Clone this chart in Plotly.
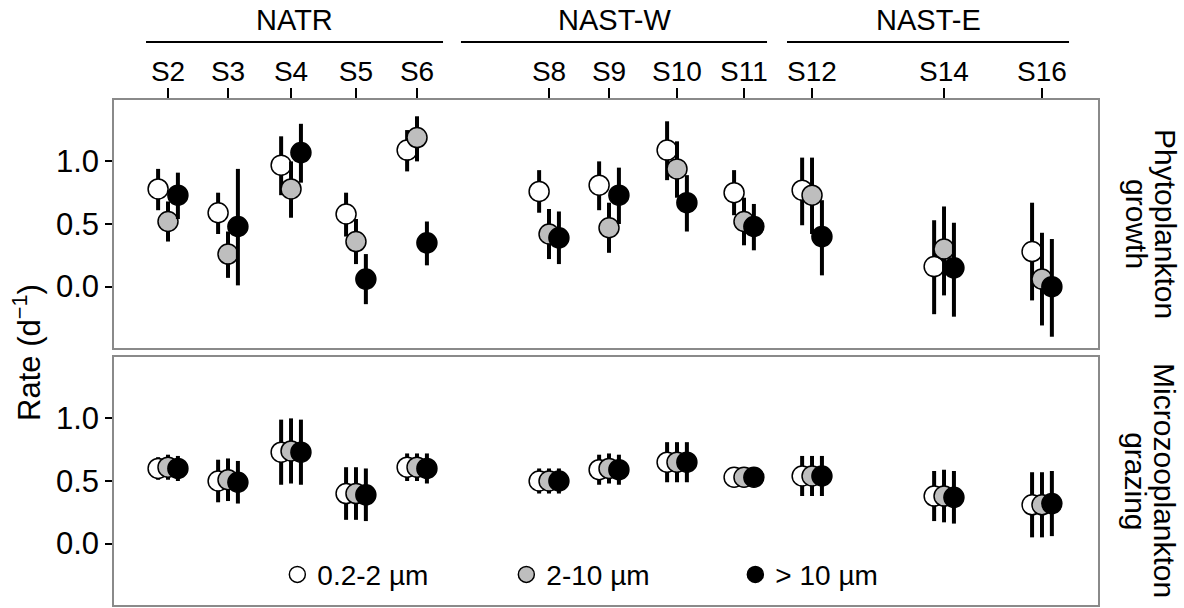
import plotly.graph_objects as go

# ---------------- data ----------------
stations = ["S2", "S3", "S4", "S5", "S6", "S8", "S9", "S10", "S11", "S12", "S14", "S16"]
station_pos = [2.0, 2.909, 3.864, 4.848, 5.773, 7.773, 8.682, 9.712, 10.727, 11.758, 13.758, 15.242]

size_classes = ["0.2-2 µm", "2-10 µm", "> 10 µm"]

# Phytoplankton growth (d-1): mean, lower, upper
growth_small = [0.78, 0.59, 0.97, 0.58, 1.09, 0.76, 0.81, 1.09, 0.75, 0.77, 0.16, 0.28]
growth_small_lo = [0.61, 0.42, 0.73, 0.40, 0.92, 0.59, 0.61, 0.85, 0.57, 0.49, -0.22, -0.11]
growth_small_hi = [0.94, 0.75, 1.20, 0.75, 1.25, 0.93, 1.00, 1.32, 0.93, 1.03, 0.53, 0.67]

growth_mid = [0.52, 0.26, 0.78, 0.36, 1.19, 0.42, 0.47, 0.94, 0.52, 0.73, 0.30, 0.06]
growth_mid_lo = [0.36, 0.07, 0.55, 0.18, 1.00, 0.22, 0.27, 0.71, 0.33, 0.42, -0.07, -0.31]
growth_mid_hi = [0.68, 0.44, 1.00, 0.54, 1.36, 0.62, 0.67, 1.16, 0.71, 1.03, 0.64, 0.43]

growth_large = [0.73, 0.48, 1.07, 0.06, 0.35, 0.39, 0.73, 0.67, 0.48, 0.40, 0.15, 0.00]
growth_large_lo = [0.54, 0.01, 0.83, -0.14, 0.17, 0.18, 0.50, 0.44, 0.29, 0.09, -0.24, -0.40]
growth_large_hi = [0.91, 0.94, 1.30, 0.26, 0.52, 0.60, 0.95, 0.89, 0.66, 0.69, 0.51, 0.38]

# Microzooplankton grazing (d-1): mean and symmetric error
grazing_small = [0.60, 0.50, 0.73, 0.40, 0.61, 0.50, 0.59, 0.65, 0.53, 0.54, 0.38, 0.31]
grazing_mid = [0.61, 0.51, 0.74, 0.40, 0.61, 0.50, 0.60, 0.65, 0.53, 0.54, 0.38, 0.31]
grazing_large = [0.60, 0.49, 0.73, 0.39, 0.60, 0.50, 0.59, 0.65, 0.53, 0.54, 0.37, 0.32]
grazing_err_small = [0.09, 0.17, 0.26, 0.21, 0.11, 0.10, 0.12, 0.16, 0.05, 0.16, 0.20, 0.26]
grazing_err_mid = [0.10, 0.17, 0.26, 0.21, 0.11, 0.10, 0.12, 0.16, 0.05, 0.16, 0.21, 0.26]
grazing_err_large = [0.10, 0.17, 0.26, 0.21, 0.12, 0.10, 0.12, 0.16, 0.05, 0.16, 0.21, 0.26]

regions = ["NATR", "NAST-W", "NAST-E"]
region_span = [(1.667, 6.167), (6.439, 11.076), (11.379, 15.652)]

# ---------------- style ----------------
FONT = "Liberation Sans, Arial, sans-serif"
fills = ["#ffffff", "#bebebe", "#000000"]
dodge = [-0.15, 0.0, 0.15]
FRAME = "#8a8a8a"
FS = 28

fig = go.Figure()

growth = [
    (growth_small, growth_small_lo, growth_small_hi),
    (growth_mid, growth_mid_lo, growth_mid_hi),
    (growth_large, growth_large_lo, growth_large_hi),
]
grazing = [
    (grazing_small, grazing_err_small),
    (grazing_mid, grazing_err_mid),
    (grazing_large, grazing_err_large),
]

for i, (m, lo, hi) in enumerate(growth):
    xs = [p + dodge[i] for p in station_pos]
    fig.add_trace(go.Scatter(
        x=xs, y=m, mode="markers", name=size_classes[i],
        xaxis="x", yaxis="y",
        marker=dict(size=20, color=fills[i], line=dict(color="black", width=1.5)),
        error_y=dict(type="data", symmetric=False,
                     array=[h - v for h, v in zip(hi, m)],
                     arrayminus=[v - l for v, l in zip(m, lo)],
                     thickness=4, width=0, color="black"),
        showlegend=True,
    ))

for i, (m, e) in enumerate(grazing):
    xs = [p + dodge[i] for p in station_pos]
    fig.add_trace(go.Scatter(
        x=xs, y=m, mode="markers", name=size_classes[i],
        xaxis="x2", yaxis="y2",
        marker=dict(size=20, color=fills[i], line=dict(color="black", width=1.5)),
        error_y=dict(type="data", array=e, thickness=4, width=0, color="black"),
        showlegend=False,
    ))

xr = [1.1818, 16.0909]
yr = [-0.49, 1.49]

common_y = dict(
    range=yr, tickvals=[0, 0.5, 1.0], tickformat=".1f",
    ticks="outside", ticklen=7, tickwidth=2, tickcolor="black",
    showline=True, mirror=True, linecolor=FRAME, linewidth=1.5,
    showgrid=False, zeroline=False,
    tickfont=dict(family=FONT, size=31, color="black"),
)

fig.update_layout(
    width=1184, height=608,
    margin=dict(l=114, r=86, t=100, b=3),
    paper_bgcolor="white", plot_bgcolor="white",
    font=dict(family=FONT, size=FS, color="black"),
    xaxis=dict(
        domain=[0, 1], anchor="y", side="top", range=xr,
        tickvals=station_pos, ticktext=stations,
        ticks="outside", ticklen=10, tickwidth=2, tickcolor="black",
        ticklabelstandoff=-4,
        showline=True, mirror=True, linecolor=FRAME, linewidth=1.5,
        showgrid=False, zeroline=False,
        tickfont=dict(family=FONT, size=FS, color="black"),
    ),
    yaxis=dict(domain=[0.5089, 1.0], anchor="x", **common_y),
    xaxis2=dict(
        domain=[0, 1], anchor="y2", range=xr, matches="x",
        showticklabels=False, ticks="",
        showline=True, mirror=True, linecolor=FRAME, linewidth=1.5,
        showgrid=False, zeroline=False,
    ),
    yaxis2=dict(domain=[0.0, 0.4911], anchor="x2", **common_y),
    legend=dict(
        orientation="h", x=0.166, xanchor="left", y=0.060, yanchor="middle",
        yref="paper", entrywidth=184, entrywidthmode="pixels",
        bgcolor="rgba(0,0,0,0)", font=dict(family=FONT, size=FS, color="black"),
        traceorder="normal",
    ),
)

# region brackets and labels
for name, (a, b) in zip(regions, region_span):
    fig.add_shape(type="line", xref="x", yref="paper", x0=a, x1=b, y0=1.1149, y1=1.1149,
                  line=dict(color="black", width=2))
    fig.add_annotation(text=name, xref="x", yref="paper", x=(a + b) / 2, y=1.158,
                       showarrow=False, xanchor="center", yanchor="middle",
                       font=dict(family=FONT, size=29, color="black"))

# y-axis title
fig.add_annotation(text="Rate (d<sup>−1</sup>)", xref="paper", yref="paper",
                   x=-0.089, y=0.50, textangle=-90, showarrow=False,
                   xanchor="center", yanchor="middle",
                   font=dict(family=FONT, size=31, color="black"))

# strip labels (one annotation per line for tight line spacing)
strip_lines = [("Phytoplankton", "growth", 0.7545), ("Microzooplankton", "grazing", 0.2455)]
for l1, l2, yc in strip_lines:
    fig.add_annotation(text=l1, xref="paper", yref="paper", x=1.068, y=yc,
                       textangle=90, showarrow=False, xanchor="center", yanchor="middle",
                       font=dict(family=FONT, size=30, color="black"))
    fig.add_annotation(text=l2, xref="paper", yref="paper", x=1.0385, y=yc,
                       textangle=90, showarrow=False, xanchor="center", yanchor="middle",
                       font=dict(family=FONT, size=30, color="black"))

fig.write_html("out.html", config={"displayModeBar": False},
               post_script="document.body.style.margin='0px';")
